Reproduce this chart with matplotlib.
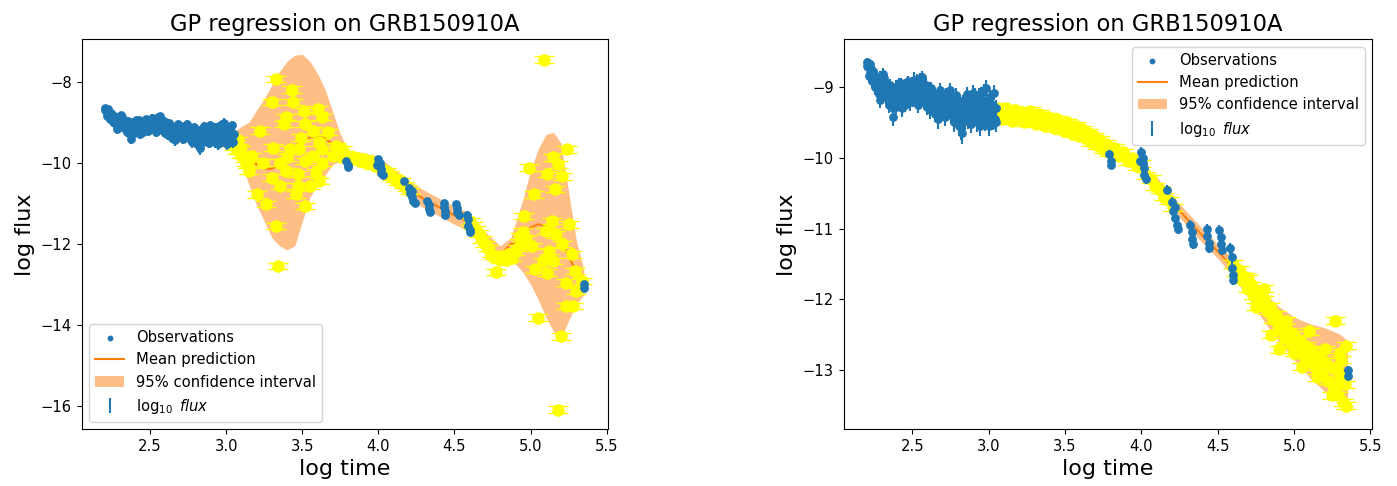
import numpy as np
import matplotlib.pyplot as plt

# observations (shared by both panels)
obs_t = [2.20, 2.21, 2.22, 2.23, 2.24, 2.25, 2.26, 2.27, 2.28, 2.29, 2.30, 2.31, 2.32, 2.33, 2.34,
         2.35, 2.36, 2.37, 2.38, 2.39, 2.40, 2.41, 2.42, 2.43, 2.44, 2.45, 2.46, 2.47, 2.48, 2.49,
         2.50, 2.51, 2.52, 2.53, 2.54, 2.55, 2.56, 2.57, 2.58, 2.59, 2.60, 2.61, 2.62, 2.63, 2.64,
         2.65, 2.66, 2.67, 2.68, 2.69, 2.70, 2.71, 2.72, 2.73, 2.74, 2.75, 2.76, 2.77, 2.78, 2.79,
         2.80, 2.81, 2.82, 2.83, 2.84, 2.85, 2.86, 2.87, 2.88, 2.89, 2.90, 2.91, 2.92, 2.93, 2.94,
         2.95, 2.96, 2.97, 2.98, 2.99, 3.00, 3.01, 3.02, 3.03, 3.04, 3.05,
         2.205, 2.215, 2.225, 2.235, 2.245, 2.255, 2.265, 2.275, 2.285, 2.295, 2.305, 2.315, 2.325, 2.335, 2.345,
         2.355, 2.365, 2.375, 2.385, 2.395, 2.405, 2.415, 2.425, 2.435, 2.445, 2.455, 2.465, 2.475, 2.485, 2.495,
         2.505, 2.515, 2.525, 2.535, 2.545, 2.555, 2.565, 2.575, 2.585, 2.595, 2.605, 2.615, 2.625, 2.635, 2.645,
         2.655, 2.665, 2.675, 2.685, 2.695, 2.705, 2.715, 2.725, 2.735, 2.745, 2.755, 2.765, 2.775, 2.785, 2.795,
         2.805, 2.815, 2.825, 2.835, 2.845, 2.855, 2.865, 2.875, 2.885, 2.895, 2.905, 2.915, 2.925, 2.935, 2.945,
         2.955, 2.965, 2.975, 2.985, 2.995, 3.005, 3.015, 3.025, 3.035, 3.045,
         3.79, 3.80, 3.80, 3.99, 4.00, 4.01, 4.01, 4.02, 4.02, 4.03,
         4.17, 4.20, 4.21, 4.22, 4.22, 4.23, 4.24, 4.32, 4.33, 4.33, 4.34,
         4.43, 4.43, 4.44, 4.44, 4.51, 4.52, 4.52, 4.53, 4.58, 4.59, 4.59, 4.60, 4.60, 5.35, 5.35]
obs_f = [-8.65, -8.72, -8.80, -8.76, -8.85, -8.82, -8.90, -8.95, -9.10, -8.88, -8.92, -8.82, -8.95, -9.00, -8.98,
         -9.12, -9.05, -9.30, -9.15, -9.00, -9.08, -8.95, -9.10, -9.00, -9.22, -8.98, -9.05, -8.92, -9.02, -9.10,
         -8.95, -8.90, -9.05, -8.92, -9.00, -8.88, -8.90, -9.02, -9.10, -8.98, -9.15, -9.05, -9.20, -9.08, -9.25,
         -9.12, -9.35, -9.10, -9.05, -9.22, -9.15, -9.30, -9.10, -9.18, -9.25, -9.15, -9.32, -9.20, -9.40, -9.25,
         -9.45, -9.30, -9.55, -9.20, -9.28, -9.15, -9.35, -9.22, -9.40, -9.20, -9.30, -9.12, -9.35, -9.25, -9.45,
         -9.10, -9.28, -9.05, -9.30, -9.20, -9.40, -9.15, -9.35, -9.25, -9.45, -9.30,
         -8.70, -8.85, -8.68, -8.92, -8.78, -9.00, -8.86, -9.05, -9.18, -8.95, -9.10, -8.88, -9.15, -9.05, -9.25,
         -8.98, -9.20, -9.42, -9.10, -9.28, -9.02, -9.18, -8.95, -9.30, -9.12, -9.25, -8.98, -9.15, -9.22, -9.05,
         -9.18, -8.92, -9.12, -9.25, -9.02, -9.15, -8.86, -9.20, -9.05, -9.28, -9.10, -9.32, -9.02, -9.18, -9.38,
         -9.20, -9.45, -9.25, -9.12, -9.35, -9.22, -9.42, -9.18, -9.35, -9.05, -9.40, -9.28, -9.50, -9.12, -9.35,
         -9.55, -9.20, -9.65, -9.38, -9.48, -9.10, -9.45, -9.30, -9.52, -9.08, -9.42, -9.25, -9.50, -9.12, -9.55,
         -9.35, -9.18, -9.48, -9.02, -9.38, -9.55, -9.25, -9.48, -9.08, -9.50,
         -9.95, -10.05, -10.10, -10.05, -9.92, -10.00, -10.08, -10.15, -10.25, -10.30,
         -10.45, -10.62, -10.75, -10.85, -10.70, -10.95, -11.00, -10.95, -11.05, -11.15, -11.22,
         -11.00, -11.10, -11.20, -11.28, -11.02, -11.12, -11.22, -11.30, -11.28, -11.40, -11.55, -11.65, -11.72, -13.00, -13.08]
obs_err = [0.06, 0.08, 0.10, 0.07, 0.09, 0.12, 0.08, 0.10, 0.07, 0.11, 0.09, 0.08, 0.12, 0.10, 0.07,
           0.09, 0.11, 0.12, 0.08, 0.10, 0.09, 0.07, 0.11, 0.08, 0.10, 0.09, 0.12, 0.08, 0.10, 0.07,
           0.09, 0.11, 0.08, 0.10, 0.12, 0.07, 0.09, 0.10, 0.08, 0.11, 0.09, 0.12, 0.10, 0.08, 0.11,
           0.09, 0.13, 0.08, 0.10, 0.12, 0.09, 0.11, 0.08, 0.10, 0.12, 0.09, 0.13, 0.10, 0.12, 0.09,
           0.14, 0.10, 0.20, 0.09, 0.11, 0.08, 0.12, 0.10, 0.13, 0.09, 0.11, 0.10, 0.14, 0.09, 0.13,
           0.10, 0.12, 0.09, 0.13, 0.10, 0.14, 0.11, 0.12, 0.10, 0.15, 0.12,
           0.07, 0.09, 0.08, 0.10, 0.08, 0.11, 0.09, 0.10, 0.12, 0.08, 0.10, 0.09, 0.11, 0.08, 0.12,
           0.09, 0.10, 0.13, 0.08, 0.11, 0.09, 0.10, 0.08, 0.12, 0.09, 0.11, 0.08, 0.10, 0.12, 0.09,
           0.10, 0.08, 0.11, 0.12, 0.09, 0.10, 0.08, 0.11, 0.09, 0.12, 0.10, 0.13, 0.09, 0.11, 0.12,
           0.10, 0.14, 0.11, 0.09, 0.12, 0.10, 0.13, 0.09, 0.12, 0.10, 0.13, 0.11, 0.14, 0.10, 0.12,
           0.15, 0.10, 0.16, 0.12, 0.13, 0.10, 0.14, 0.11, 0.13, 0.10, 0.12, 0.11, 0.14, 0.10, 0.15,
           0.12, 0.10, 0.14, 0.11, 0.12, 0.15, 0.11, 0.13, 0.10, 0.14,
           0.06, 0.06, 0.06, 0.07, 0.07, 0.07, 0.07, 0.07, 0.07, 0.07,
           0.06, 0.07, 0.07, 0.07, 0.07, 0.07, 0.07, 0.07, 0.07, 0.07, 0.07,
           0.07, 0.07, 0.07, 0.07, 0.07, 0.07, 0.07, 0.07, 0.08, 0.08, 0.08, 0.08, 0.08, 0.06, 0.06]

# left panel: GP mean and 95% band edges
left_t = [2.20, 2.40, 2.60, 2.80, 3.00, 3.05, 3.10, 3.15, 3.20, 3.25, 3.30, 3.35, 3.40, 3.45, 3.50,
          3.55, 3.60, 3.65, 3.70, 3.75, 3.80, 3.90, 4.00, 4.10, 4.20, 4.30, 4.40, 4.50, 4.60, 4.70,
          4.80, 4.87, 4.90, 4.95, 5.00, 5.05, 5.10, 5.15, 5.20, 5.25, 5.30, 5.35]
left_mean = [-8.68, -9.05, -9.08, -9.28, -9.28, -9.40, -9.62, -9.85, -10.05, -10.15, -10.15, -10.05, -9.85, -9.62, -9.42,
             -9.38, -9.35, -9.40, -9.55, -9.70, -9.85, -9.92, -10.05, -10.35, -10.66, -10.90, -11.10, -11.30, -11.47, -11.95,
             -12.30, -12.00, -12.00, -11.80, -11.60, -11.52, -11.56, -11.70, -11.92, -12.30, -12.70, -12.95]
left_lo = [-8.73, -9.10, -9.13, -9.33, -9.35, -9.55, -10.05, -10.55, -11.05, -11.45, -11.85, -12.05, -12.15, -12.05, -11.45,
           -10.85, -10.55, -10.30, -10.05, -9.95, -9.95, -10.10, -10.25, -10.55, -10.88, -11.12, -11.32, -11.52, -11.70, -12.20,
           -12.55, -12.15, -12.50, -12.70, -13.00, -13.37, -13.81, -14.15, -14.32, -13.90, -13.50, -13.25]
left_hi = [-8.63, -9.00, -9.03, -9.23, -9.21, -9.25, -9.10, -9.00, -8.70, -8.42, -8.08, -7.75, -7.50, -7.35, -7.33,
           -7.50, -7.80, -8.20, -8.75, -9.30, -9.70, -9.75, -9.85, -10.15, -10.44, -10.68, -10.88, -11.08, -11.24, -11.70,
           -12.05, -11.85, -11.50, -10.90, -10.20, -9.67, -9.31, -9.25, -9.52, -10.70, -11.90, -12.65]

# left panel: sampled predictions
left_yt = [3.02, 3.03, 3.04, 3.05, 3.06, 3.07, 3.08, 3.09, 3.10, 3.12, 3.14,
           3.33, 3.43, 3.30, 3.44, 3.51, 3.60, 3.39, 3.63, 3.38, 3.52, 3.22, 3.57, 3.67, 3.49, 3.04, 3.61,
           3.72, 3.09, 3.31, 3.42, 3.48, 3.63, 3.76, 3.17, 3.40, 3.57, 3.70, 3.13, 3.24, 3.35, 3.52, 3.63,
           3.15, 3.39, 3.47, 3.59, 3.30, 3.35, 3.47, 3.55, 3.61, 3.20, 3.46, 3.26, 3.52, 3.33, 3.34,
           3.74, 3.76, 3.78, 3.80, 3.82, 3.84, 3.86, 3.88, 3.90, 3.92, 3.94, 3.96, 3.98, 4.05, 4.07, 4.09,
           4.11, 4.13, 4.15, 4.17, 4.19, 4.21,
           4.60, 4.62, 4.64, 4.66, 4.68, 4.70, 4.72, 4.74, 4.76, 4.77, 4.78, 4.80, 4.82, 4.84, 4.86, 4.88,
           4.90, 4.92, 4.94, 4.95, 4.97,
           5.09, 5.24, 5.15, 5.18, 4.99, 5.11, 5.21, 5.16, 5.02, 4.96, 5.14, 5.25, 5.10, 5.17, 4.93, 5.01,
           5.21, 5.12, 5.27, 5.08, 5.15, 5.03, 5.11, 5.29, 5.34, 5.23, 5.30, 5.23, 5.28, 5.05, 5.20, 5.18]
left_yf = [-9.35, -9.50, -9.42, -9.60, -9.55, -9.70, -9.45, -9.67, -9.80, -9.90, -10.05,
           -7.94, -8.20, -8.50, -8.51, -8.72, -8.68, -8.88, -8.88, -9.05, -9.05, -9.21, -9.21, -9.25, -9.38, -9.42, -9.50,
           -9.59, -9.67, -9.63, -9.67, -9.67, -9.67, -9.67, -9.83, -9.87, -9.83, -9.83, -10.00, -10.00, -10.00, -9.96, -10.00,
           -10.20, -10.20, -10.28, -10.24, -10.37, -10.57, -10.57, -10.57, -10.45, -10.78, -10.78, -11.02, -11.07, -11.56, -12.55,
           -9.75, -9.85, -9.80, -9.90, -9.85, -9.92, -9.88, -9.95, -9.90, -10.00, -9.95, -10.02, -10.08, -10.20, -10.28, -10.35,
           -10.40, -10.48, -10.45, -10.55, -10.62, -10.70,
           -11.45, -11.55, -11.65, -11.75, -11.90, -12.00, -12.10, -12.25, -12.30, -12.70, -12.35, -12.40, -12.30, -12.40, -12.25, -12.35,
           -12.20, -12.10, -12.00, -11.70, -11.90,
           -7.46, -9.67, -9.87, -10.04, -10.12, -10.28, -10.34, -10.65, -10.78, -11.31, -11.44, -11.52, -11.68, -11.77, -11.81, -12.05,
           -12.01, -12.18, -12.26, -12.42, -12.42, -12.63, -12.71, -12.67, -12.92, -12.96, -13.17, -13.54, -13.54, -13.82, -14.28, -16.09]

# right panel: GP mean and 95% band edges
right_t = [2.20, 2.30, 2.40, 2.50, 2.60, 2.70, 2.80, 2.90, 3.00, 3.05, 3.20, 3.40, 3.60, 3.80, 4.00,
           4.10, 4.20, 4.30, 4.40, 4.50, 4.60, 4.70, 4.80, 4.90, 5.00, 5.10, 5.20, 5.30, 5.35]
right_mean = [-8.70, -8.90, -9.05, -9.00, -9.08, -9.15, -9.25, -9.25, -9.28, -9.30, -9.38, -9.48, -9.62, -9.88, -10.15,
              -10.35, -10.62, -10.87, -11.10, -11.32, -11.55, -11.82, -12.10, -12.35, -12.55, -12.72, -12.85, -12.97, -13.03]
right_lo = [-8.74, -8.94, -9.09, -9.04, -9.12, -9.19, -9.29, -9.29, -9.33, -9.36, -9.46, -9.56, -9.70, -9.96, -10.22,
            -10.43, -10.71, -10.97, -11.20, -11.42, -11.67, -11.98, -12.30, -12.60, -12.85, -13.10, -13.30, -13.45, -13.48]
right_hi = [-8.66, -8.86, -9.01, -8.96, -9.04, -9.11, -9.21, -9.21, -9.23, -9.24, -9.30, -9.40, -9.54, -9.80, -10.08,
            -10.27, -10.53, -10.77, -11.00, -11.22, -11.43, -11.66, -11.90, -12.10, -12.25, -12.34, -12.40, -12.49, -12.58]

# right panel: sampled predictions
right_yt = [3.03, 3.05, 3.07, 3.09, 3.11, 3.13, 3.15, 3.17, 3.19, 3.21, 3.23, 3.25, 3.27, 3.29, 3.31,
            3.33, 3.35, 3.37, 3.39, 3.41, 3.43, 3.45, 3.47, 3.49, 3.51, 3.53, 3.55, 3.57, 3.59, 3.61,
            3.63, 3.65, 3.67, 3.69, 3.71, 3.73, 3.75, 3.77, 3.79, 3.82, 3.85, 3.88, 3.91, 3.94, 3.97,
            4.00, 4.03, 4.06, 4.09, 4.12, 4.15, 4.18, 4.21,
            4.60, 4.62, 4.64, 4.66, 4.68, 4.70, 4.72, 4.74, 4.76, 4.78, 4.80, 4.82, 4.84, 4.86, 4.88,
            4.90, 4.92, 4.94, 4.96, 4.98, 5.00, 5.02, 5.04, 5.06, 5.08, 5.10, 5.12, 5.14, 5.16, 5.18,
            5.20, 5.22, 5.24, 5.26, 5.27, 5.28, 5.29, 5.30, 5.31, 5.32, 5.33, 5.34, 5.34,
            4.70, 4.75, 4.80, 4.85, 4.90, 4.95, 5.00, 5.05, 5.10, 5.15, 5.20, 5.25, 5.30]
right_yf = [-9.28, -9.40, -9.32, -9.45, -9.30, -9.38, -9.48, -9.33, -9.42, -9.36, -9.50, -9.40, -9.34, -9.46, -9.52,
            -9.38, -9.45, -9.55, -9.42, -9.50, -9.58, -9.46, -9.55, -9.62, -9.50, -9.60, -9.66, -9.55, -9.68, -9.60,
            -9.72, -9.65, -9.78, -9.70, -9.82, -9.75, -9.88, -9.80, -9.92, -9.86, -9.98, -9.92, -10.05, -10.00, -10.12,
            -10.08, -10.25, -10.30, -10.40, -10.45, -10.55, -10.60, -10.70,
            -11.50, -11.62, -11.58, -11.72, -11.68, -11.85, -11.80, -11.95, -11.90, -12.05, -12.00, -12.15, -12.10, -12.28, -12.22,
            -12.40, -12.32, -12.55, -12.45, -12.62, -12.50, -12.70, -12.58, -12.78, -12.65, -12.85, -12.72, -12.95, -12.80, -13.05,
            -12.88, -13.15, -12.95, -13.25, -12.30, -12.98, -13.35, -13.10, -12.85, -13.45, -13.20, -13.50, -12.65,
            -11.70, -12.10, -11.85, -12.50, -12.70, -12.30, -12.75, -12.95, -12.45, -13.10, -12.70, -13.35, -12.75]


def panel(ax, mean_t, mean, lo, hi, yt, yf, yerr, legend_loc, ylim):
    ax.scatter(obs_t, obs_f, s=28, color='C0', zorder=4, label='Observations')
    ax.plot(mean_t, mean, color='C1', zorder=2, label='Mean prediction')
    ax.fill_between(mean_t, lo, hi, color='C1', alpha=0.5, lw=0, zorder=1,
                    label='95% confidence interval')
    ax.errorbar(yt, yf, yerr=yerr, fmt='o', color='yellow', ms=8, capsize=7, zorder=3)
    ax.errorbar(obs_t, obs_f, yerr=obs_err, fmt='none', ecolor='C0', zorder=4,
                label=r'$\log_{10}$ $flux$')
    ax.set_xlim(2.05, 5.51)
    ax.set_ylim(*ylim)
    ax.tick_params(labelsize=10.6)
    ax.set_xlabel('log time', fontsize=16)
    ax.set_ylabel('log flux', fontsize=16)
    ax.set_title('GP regression on GRB150910A', fontsize=16.3)
    ax.legend(loc=legend_loc, fontsize=10.6, markerscale=0.6)


fig = plt.figure(figsize=(13.97, 4.86), dpi=100)
ax1 = fig.add_axes([0.0585, 0.117, 0.3768, 0.802])
ax2 = fig.add_axes([0.6039, 0.117, 0.3782, 0.802])

panel(ax1, left_t, left_mean, left_lo, left_hi, left_yt, left_yf, 0.08, 'lower left', (-16.57, -6.96))
panel(ax2, right_t, right_mean, right_lo, right_hi, right_yt, right_yf, 0.05, 'upper right', (-13.83, -8.33))

plt.savefig('out.png', dpi=100)
plt.close()
